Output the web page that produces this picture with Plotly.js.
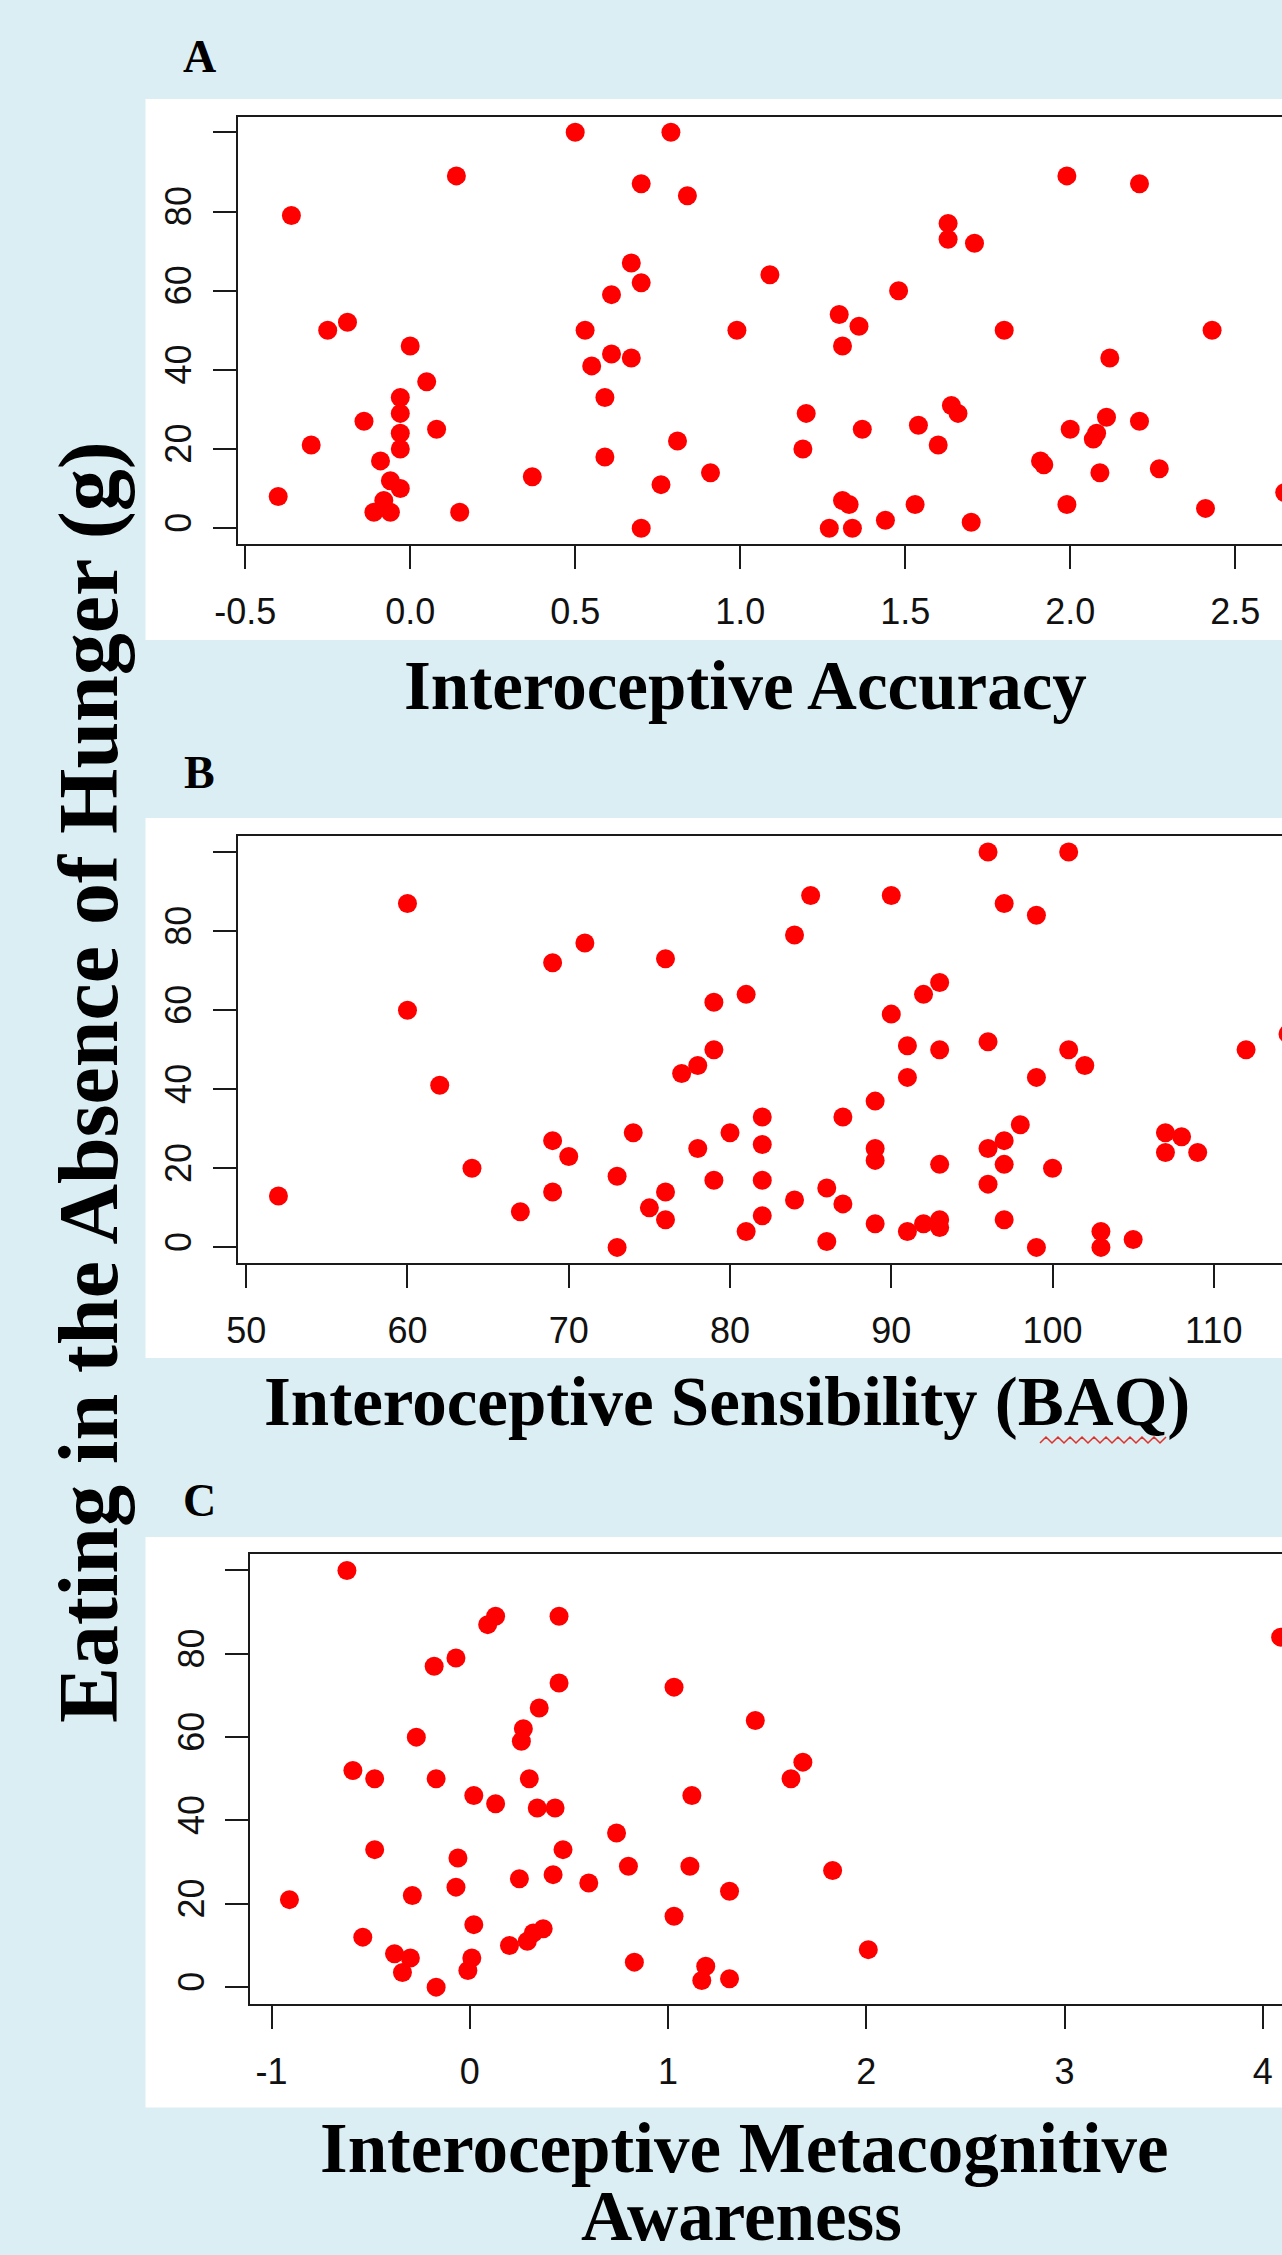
<!DOCTYPE html>
<html><head><meta charset="utf-8">
<script src="https://cdn.plot.ly/plotly-3.0.1.min.js"></script>
<style>
html,body{margin:0;padding:0;overflow:hidden;background:#dbeef3;width:1282px;height:2255px}
#chart{width:1400px;height:2255px}
</style>
</head><body><div id="chart"></div>
<script>
// ---------- DATA ----------
// Panel A: Interoceptive Accuracy vs Eating in the Absence of Hunger (g)
const accuracyX = [0.50,0.79,0.14,0.70,0.84,-0.36,0.67,0.70,0.61,-0.25,-0.19,0.53,0.99,0.00,0.61,0.67,0.55,0.05,-0.03,0.59,-0.03,-0.14,-0.03,0.08,-0.30,-0.03,0.59,0.81,-0.09,0.91,0.37,0.76,-0.06,-0.03,-0.40,-0.08,-0.11,-0.06,0.15,0.70,
  1.99,2.21,1.63,1.63,1.71,1.09,1.48,1.30,1.36,1.31,1.80,2.43,2.12,1.20,1.37,1.54,1.64,1.66,2.11,2.21,2.00,2.08,2.07,1.19,1.60,1.91,1.92,2.09,2.27,1.31,1.33,1.53,1.99,2.41,1.44,1.70,1.27,1.34,2.65];
const accuracyY = [100,100,89,87,84,79,67,62,59,50,52,50,50,46,44,43,41,37,33,33,29,27,24,25,21,20,18,22,17,14,13,11,12,10,8,7,4,4,4,0,
  89,87,77,73,72,64,60,54,51,46,50,50,43,29,25,26,31,29,28,27,25,24,22.5,20,21,17,16,14,15,7,6,6,6,5,2,1.5,0,0,9];

// Panel B: Interoceptive Sensibility (BAQ)
const baqX = [60,60,71,69,76,79,62,79,78,77,69,74,80,70,78,64,73,79,52,69,76,67,75,76,73,
  81,81,96,101,85,90,97,99,84,93,92,90,91,93,96,101,102,112,91,99,89,82,87,98,107,108,97,96,82,89,89,107,109,93,97,100,82,96,86,84,87,82,89,91,92,93,93,97,86,99,103,103,105,114.6];
const baqY = [87,60,77,72,73,62,41,50,46,44,27,29,29,23,25,20,18,17,13,14,14,9,10,7,0,
  64,4,100,100,89,89,87,84,79,67,64,59,51,50,52,50,46,50,43,43,37,33,33,31,29,28,27,25,26,25,22,24,24,21,21,20,17,16,15,12,11,8,6,4,6,7,5,7,1.5,0,4,0,2,54];

// Panel C: Interoceptive Metacognitive Awareness
const metaX = [-0.62,0.13,0.09,0.45,-0.07,-0.18,0.45,0.35,0.27,0.26,-0.27,-0.59,-0.48,-0.17,0.30,0.02,0.13,0.34,0.43,1.03,1.12,0.74,-0.48,0.47,-0.06,0.80,1.11,0.42,0.25,0.60,-0.07,-0.29,1.31,-0.91,0.02,-0.54,1.03,0.37,0.32,0.29,0.20,-0.38,-0.30,-0.34,0.01,-0.01,-0.17,0.83,1.19,1.17,1.31,1.44,1.68,1.62,1.83,2.01,4.09];
const metaY = [100,89,87,89,79,77,73,67,62,59,60,52,50,50,50,46,44,43,43,72,46,37,33,33,31,29,29,27,26,25,24,22,23,21,15,12,17,14,13,11,10,8,7,3.5,7,4,0,6,5,1.6,2,64,54,50,28,9,84];

// Tick values / labels
const xTicksA = [-0.5,0,0.5,1,1.5,2,2.5];
const xTickTextA = ['-0.5','0.0','0.5','1.0','1.5','2.0','2.5'];
const xTicksB = [50,60,70,80,90,100,110];
const xTickTextB = ['50','60','70','80','90','100','110'];
const xTicksC = [-1,0,1,2,3,4];
const xTickTextC = ['-1','0','1','2','3','4'];
const yTicks = [0,20,40,60,80,100];
const yTickText = ['0','20','40','60','80',''];

const yTitle = 'Eating in the Absence of Hunger (g)';
const xTitleA = 'Interoceptive Accuracy';
const xTitleB = 'Interoceptive Sensibility (BAQ)';
const xTitleC1 = 'Interoceptive Metacognitive';
const xTitleC2 = 'Awareness';

// ---------- LAYOUT GEOMETRY (pixels) ----------
const W = 1400, H = 2255;
const fx = p => p / W;
const fy = p => 1 - p / H;
const RIGHT = 1390;
const panels = [
  {box:{left:237.5, top:116.5, bottom:544}, v0:-0.5, px0:245.2, ppu:330, white:{top:99, bottom:640}},
  {box:{left:237.5, top:836.2, bottom:1263.2}, v0:50, px0:246.2, ppu:16.127, white:{top:818, bottom:1358}},
  {box:{left:250.4, top:1553.8, bottom:2003.8}, v0:-1, px0:271.6, ppu:198.24, white:{top:1537, bottom:2107.5}}
];
const xr = p => [p.v0 + (p.box.left - p.px0)/p.ppu, p.v0 + (RIGHT - p.px0)/p.ppu];

const lineCol = '#1a1a1a';
const tickFont = {family:'Liberation Sans, Arial, sans-serif', size:36, color:'#111'};
function xAxis(p, tv, tt){
  return {domain:[fx(p.box.left), fx(RIGHT)], range:xr(p), anchor:null, showgrid:false, zeroline:false,
    showline:true, mirror:true, linecolor:lineCol, linewidth:2, ticks:'outside', ticklen:23, tickwidth:2,
    tickcolor:lineCol, tickvals:tv, ticktext:tt, tickfont:tickFont, ticklabelstandoff:12, fixedrange:true};
}
function yAxis(p){
  return {domain:[fy(p.box.bottom), fy(p.box.top)], range:[-4,104], showgrid:false, zeroline:false,
    showline:true, mirror:true, linecolor:lineCol, linewidth:2, ticks:'outside', ticklen:23, tickwidth:2,
    tickcolor:lineCol, tickvals:yTicks, ticktext:yTickText, tickfont:tickFont, tickangle:-90,
    ticklabelstandoff:7, fixedrange:true};
}

const mk = {color:'#ff0000', size:19, line:{width:0}};
const traces = [
  {x:accuracyX, y:accuracyY, xaxis:'x', yaxis:'y', type:'scatter', mode:'markers', marker:mk, cliponaxis:true},
  {x:baqX, y:baqY, xaxis:'x2', yaxis:'y2', type:'scatter', mode:'markers', marker:mk, cliponaxis:true},
  {x:metaX, y:metaY, xaxis:'x3', yaxis:'y3', type:'scatter', mode:'markers', marker:mk, cliponaxis:true}
];

const xa1 = xAxis(panels[0], xTicksA, xTickTextA); xa1.anchor = 'y';
const xa2 = xAxis(panels[1], xTicksB, xTickTextB); xa2.anchor = 'y2';
const xa3 = xAxis(panels[2], xTicksC, xTickTextC); xa3.anchor = 'y3';
const ya1 = yAxis(panels[0]); ya1.anchor = 'x';
const ya2 = yAxis(panels[1]); ya2.anchor = 'x2';
const ya3 = yAxis(panels[2]); ya3.anchor = 'x3';

const serif = 'Liberation Serif, Times New Roman, serif';
function ann(text, x, y, size, angle){
  return {text:text, xref:'paper', yref:'paper', x:fx(x), y:fy(y), xanchor:'center', yanchor:'middle',
    showarrow:false, textangle:angle||0, font:{family:serif, size:size, color:'#000', weight:700}};
}
const annotations = [
  ann('A', 199, 56.5, 46), ann('B', 199, 772.5, 46), ann('C', 199, 1500, 46),
  ann(xTitleA, 745, 686, 69), ann(xTitleB, 727, 1402, 69),
  ann(xTitleC1, 744, 2148, 71), ann(xTitleC2, 741, 2216, 71),
  ann(yTitle, 89, 1082, 84, -90)
];

const shapes = panels.map(p => ({type:'rect', xref:'paper', yref:'paper', layer:'below',
  x0:fx(145.5), x1:fx(W), y0:fy(p.white.bottom), y1:fy(p.white.top), fillcolor:'#ffffff', line:{width:0}}));
// spell-check squiggle under "BAQ"
let sq = '';
for (let i = 0, px = 1040; px <= 1170; px += 6, i++) {
  sq += (i === 0 ? 'M' : 'L') + fx(px).toFixed(5) + ',' + fy(i % 2 ? 1437 : 1443).toFixed(5) + ' ';
}
shapes.push({type:'path', xref:'paper', yref:'paper', path:sq.trim(), line:{color:'#e0302a', width:1.5}});

const layout = {
  width:W, height:H, margin:{l:0,r:0,t:0,b:0}, showlegend:false,
  paper_bgcolor:'#dbeef3', plot_bgcolor:'#ffffff',
  xaxis:xa1, yaxis:ya1, xaxis2:xa2, yaxis2:ya2, xaxis3:xa3, yaxis3:ya3,
  annotations:annotations, shapes:shapes
};
Plotly.newPlot('chart', traces, layout, {displayModeBar:false, staticPlot:true});
</script></body></html>
